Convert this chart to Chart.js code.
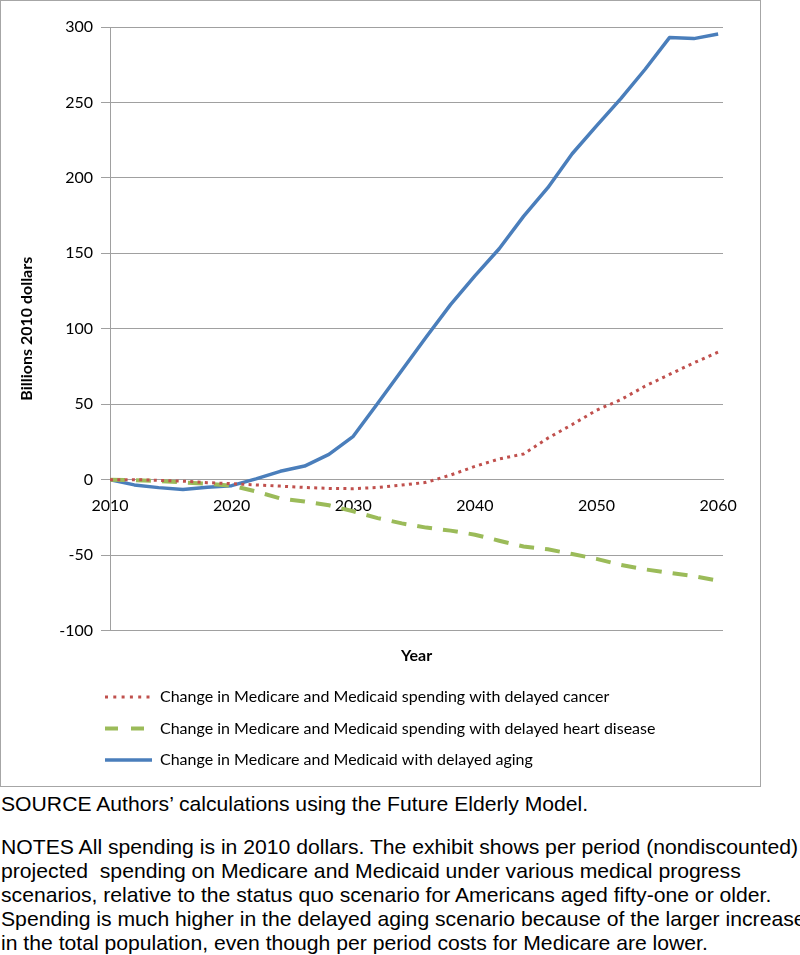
<!DOCTYPE html>
<html>
<head>
<meta charset="utf-8">
<script src="https://cdn.jsdelivr.net/npm/chart.js@4/dist/chart.umd.min.js"></script>
<style>
html,body{margin:0;padding:0;background:#fff;}
#box{position:absolute;left:0;top:0;width:759px;height:785px;border:1px solid #a6a6a6;}
#box canvas{display:block;}
#notes{position:absolute;left:1px;top:792px;font-family:"Liberation Sans",Arial,sans-serif;font-size:21px;color:#000;line-height:24px;white-space:nowrap;}
#notes .l{transform-origin:0 0;display:block;width:max-content;}
#notes .gap{height:19px;}
</style>
</head>
<body>
<div id="box"><canvas id="c" width="759" height="785"></canvas></div>
<div id="notes">
<span class="l">SOURCE Authors’ calculations using the Future Elderly Model.</span>
<div class="gap"></div>
<span class="l" id="ref">NOTES All spending is in 2010 dollars. The exhibit shows per period (nondiscounted)</span>
<span class="l">projected&nbsp; spending on Medicare and Medicaid under various medical progress</span>
<span class="l">scenarios, relative to the status quo scenario for Americans aged fifty-one or older.</span>
<span class="l">Spending is much higher in the delayed aging scenario because of the larger increase</span>
<span class="l">in the total population, even though per period costs for Medicare are lower.</span>
</div>
<script>
// ---- data ----
const years = [2010, 2012, 2014, 2016, 2018, 2020, 2022, 2024, 2026, 2028, 2030, 2032, 2034, 2036, 2038, 2040, 2042, 2044, 2046, 2048, 2050, 2052, 2054, 2056, 2058, 2060];
const cancer = [0, 0, -0.5, -1, -2, -2.7, -3.5, -4.3, -5.2, -5.8, -6, -5.2, -3.6, -1.8, 3, 8.8, 13.7, 17, 27.5, 36.5, 46, 53, 62, 69.7, 77.4, 84.5];
const heart = [0, -0.3, -1, -1.8, -2.8, -4, -7.8, -12.5, -14.5, -17, -21, -25.5, -29, -31.8, -33.8, -36.5, -40.5, -44.3, -46.2, -49.3, -52.5, -56.5, -59.5, -61.8, -64, -67];
const aging = [0, -3.5, -5.3, -6.5, -5, -4, 0.5, 5.5, 9, 16.7, 28.7, 50.5, 72.5, 94.5, 116, 135, 153, 174.5, 193.5, 216, 234.5, 252.5, 272, 293, 292.3, 295.3];
const xTickValues = [2010, 2020, 2030, 2040, 2050, 2060];
const yTickValues = [-100, -50, 0, 50, 100, 150, 200, 250, 300];
const seriesNames = [
  "Change in Medicare and Medicaid spending with delayed cancer",
  "Change in Medicare and Medicaid spending with delayed heart disease",
  "Change in Medicare and Medicaid with delayed aging"
];
const xTitle = "Year";
const yTitle = "Billions 2010 dollars";

const toXY = arr => arr.map((v, i) => ({x: years[i], y: v}));
const FONT = "Lato, 'Open Sans', sans-serif";
const GRID = "#a0a0a0";
const LEG_FONT = 16;
const LEG_BOX = 47;
const legendDash = [[3, 5.3], [13, 13], []];

// shift the legend block and draw line samples (with dash patterns) in the box slots
const legendShift = {
  id: 'legendShift',
  afterLayout(chart) { chart.legend.left = 88.5; },
  afterDraw(chart) {
    const lg = chart.legend, ctx = chart.ctx;
    const metas = chart.data.datasets;
    (lg.legendHitBoxes || []).forEach((hb, i) => {
      const ds = metas[i];
      const y = hb.top + LEG_FONT / 2;
      ctx.save();
      ctx.strokeStyle = ds.borderColor;
      ctx.lineWidth = ds.borderWidth;
      ctx.lineCap = 'butt';
      ctx.setLineDash(legendDash[i]);
      ctx.beginPath();
      ctx.moveTo(hb.left, y);
      ctx.lineTo(hb.left + LEG_BOX, y);
      ctx.stroke();
      ctx.restore();
    });
  }
};

new Chart(document.getElementById('c'), {
  type: 'line',
  data: {
    datasets: [
      {label: seriesNames[0], data: toXY(cancer), borderColor: '#c0504d', backgroundColor: '#c0504d',
       borderWidth: 3, borderDash: [3, 4.3], borderCapStyle: 'butt', pointRadius: 0},
      {label: seriesNames[1], data: toXY(heart), borderColor: '#9bbb59', backgroundColor: '#9bbb59',
       borderWidth: 4, borderDash: [15, 11], borderCapStyle: 'butt', pointRadius: 0},
      {label: seriesNames[2], data: toXY(aging), borderColor: '#4a7ebb', backgroundColor: '#4a7ebb',
       borderWidth: 3.5, pointRadius: 0, borderJoinStyle: 'round'}
    ]
  },
  options: {
    responsive: false,
    animation: false,
    layout: {padding: {top: 26, right: 37, left: 0, bottom: 8}},
    plugins: {
      legend: {
        position: 'bottom', align: 'start',
        labels: {
          boxWidth: LEG_BOX, boxHeight: 0, padding: 15.5, color: '#000',
          font: {family: FONT, size: LEG_FONT},
          generateLabels: chart => chart.data.datasets.map((ds, i) => ({
            text: ds.label, datasetIndex: i, fillStyle: 'rgba(0,0,0,0)',
            strokeStyle: 'rgba(0,0,0,0)', lineWidth: 0, hidden: false
          }))
        }
      },
      tooltip: {enabled: false}
    },
    scales: {
      x: {
        type: 'linear', position: {y: 0}, min: 2010, max: 2060.4,
        afterBuildTicks: s => { s.ticks = xTickValues.map(v => ({value: v})); },
        ticks: {padding: 9, color: '#000', font: {family: FONT, size: 16}, maxRotation: 0, callback: v => String(v)},
        grid: {display: false},
        border: {display: true, color: GRID, width: 1}
      },
      x2: {
        type: 'linear', position: 'bottom', min: 0, max: 1,
        ticks: {display: false}, grid: {display: false}, border: {display: false},
        title: {display: true, text: xTitle, color: '#000', font: {family: FONT, size: 16, weight: 'bold'}, padding: {top: 0, bottom: 8}},
        afterFit: s => { s.height = 43; }
      },
      y: {
        type: 'linear', min: -100, max: 300,
        afterBuildTicks: s => { s.ticks = yTickValues.map(v => ({value: v})); },
        afterFit: s => { s.width = 109; },
        ticks: {padding: 8, color: '#000', font: {family: FONT, size: 16}},
        grid: {color: GRID, lineWidth: 1, drawTicks: true, tickLength: 9},
        border: {display: true, color: GRID, width: 1},
        title: {display: true, text: yTitle, color: '#000', font: {family: FONT, size: 16, weight: 'bold'}, padding: {top: 16, bottom: 0}}
      }
    }
  },
  plugins: [legendShift]
});

// footnote width fit (single horizontal scale for all lines)
const ref = document.getElementById('ref');
const s = 797 / ref.getBoundingClientRect().width;
document.querySelectorAll('#notes .l').forEach(el => { el.style.transform = 'scaleX(' + s + ')'; });
</script>
</body>
</html>
